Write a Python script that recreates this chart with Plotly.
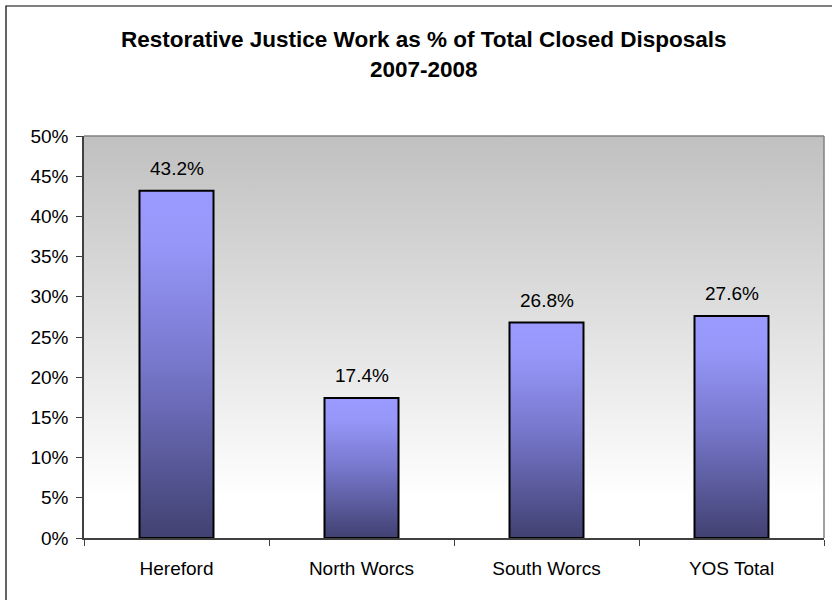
import plotly.graph_objects as go

# Chart data
categories = ["Hereford", "North Worcs", "South Worcs", "YOS Total"]
values = [43.2, 17.4, 26.8, 27.6]
value_labels = ["43.2%", "17.4%", "26.8%", "27.6%"]
y_ticks = [0, 5, 10, 15, 20, 25, 30, 35, 40, 45, 50]

FONT = "Liberation Sans, Arial, sans-serif"
W, H = 832, 600
L, R, T, B = 84, 8, 136, 62
plot_w = W - L - R
plot_h = H - T - B

bar_half = 0.2
x_min, x_max = -0.5, len(categories) - 0.5
y_min, y_max = 0, 50

bar_scale = [[0.0, "#414172"], [0.5, "#7777CC"], [0.85, "#9797FA"], [1.0, "#9B9BFF"]]
bg_scale = [[0.0, "#FFFFFF"], [1.0, "#C0C0C0"]]

fig = go.Figure()

# plot-area background: grey at the top fading to white near the base
fig.add_trace(go.Scatter(
    x=[x_min, x_max, x_max, x_min, x_min],
    y=[y_min, y_min, y_max, y_max, y_min],
    mode="lines", line=dict(width=0), fill="toself",
    fillgradient=dict(type="vertical", colorscale=bg_scale, start=5, stop=y_max),
    hoverinfo="skip", showlegend=False,
))

# bars with a vertical gradient fill
for i, v in enumerate(values):
    fig.add_trace(go.Scatter(
        x=[i - bar_half, i + bar_half, i + bar_half, i - bar_half, i - bar_half],
        y=[0, 0, v, v, 0],
        mode="lines", line=dict(color="#000000", width=2), fill="toself",
        fillgradient=dict(type="vertical", colorscale=bar_scale, start=0, stop=v),
        hoverinfo="skip", showlegend=False,
    ))

# value labels above each bar
for i, (v, lab) in enumerate(zip(values, value_labels)):
    fig.add_annotation(
        x=i, y=v, text=lab, showarrow=False, xanchor="center", yanchor="bottom",
        yshift=10, font=dict(family=FONT, size=19, color="#000000"),
    )

# two-line title
def py(pix):
    return (H - B - pix) / plot_h

def px(pix):
    return (pix - L) / plot_w

title_x = px(424)
fig.add_annotation(
    xref="paper", yref="paper", x=title_x, y=py(40), xanchor="center", yanchor="middle",
    text="<b>Restorative Justice Work as % of Total Closed Disposals</b>", showarrow=False,
    font=dict(family=FONT, size=22.5, color="#000000"),
)
fig.add_annotation(
    xref="paper", yref="paper", x=title_x, y=py(70), xanchor="center", yanchor="middle",
    text="<b>2007-2008</b>", showarrow=False,
    font=dict(family=FONT, size=22.5, color="#000000"),
)

# grey frame on the top and right of the plot area
fig.add_shape(type="line", xref="paper", yref="paper", x0=0, x1=1, y0=1, y1=1,
              line=dict(color="#808080", width=1.5))
fig.add_shape(type="line", xref="paper", yref="paper", x0=1, x1=1, y0=0, y1=1,
              line=dict(color="#808080", width=1.5))

# outer chart border
fig.add_shape(type="rect", xref="paper", yref="paper",
              x0=px(6), x1=px(845), y0=py(610), y1=py(6),
              line=dict(color="#000000", width=1.2), fillcolor="rgba(0,0,0,0)", layer="above")

fig.update_layout(
    width=W, height=H,
    margin=dict(l=L, r=R, t=T, b=B, pad=0),
    paper_bgcolor="#FFFFFF", plot_bgcolor="#FFFFFF",
    font=dict(family=FONT, size=19, color="#000000"),
    showlegend=False,
    xaxis=dict(
        range=[x_min, x_max], tickmode="array",
        tickvals=list(range(len(categories))), ticktext=categories,
        ticks="", showgrid=False, zeroline=False,
        showline=True, linecolor="#404040", linewidth=1.5,
        ticklabelstandoff=12,
        tickfont=dict(family=FONT, size=19, color="#000000"),
        minor=dict(tickmode="array", tickvals=[k - 0.5 for k in range(len(categories) + 1)],
                   ticks="outside", ticklen=6, tickwidth=1.2, tickcolor="#404040", showgrid=False),
        fixedrange=True,
    ),
    yaxis=dict(
        range=[y_min, y_max], tickmode="array", tickvals=y_ticks,
        ticktext=[f"{t}%" for t in y_ticks],
        ticks="outside", ticklen=6, tickwidth=1.2, tickcolor="#404040",
        showgrid=False, zeroline=False,
        showline=True, linecolor="#404040", linewidth=1.5,
        ticklabelstandoff=4,
        tickfont=dict(family=FONT, size=19, color="#000000"),
        fixedrange=True,
    ),
)

fig.write_html("out.html")
